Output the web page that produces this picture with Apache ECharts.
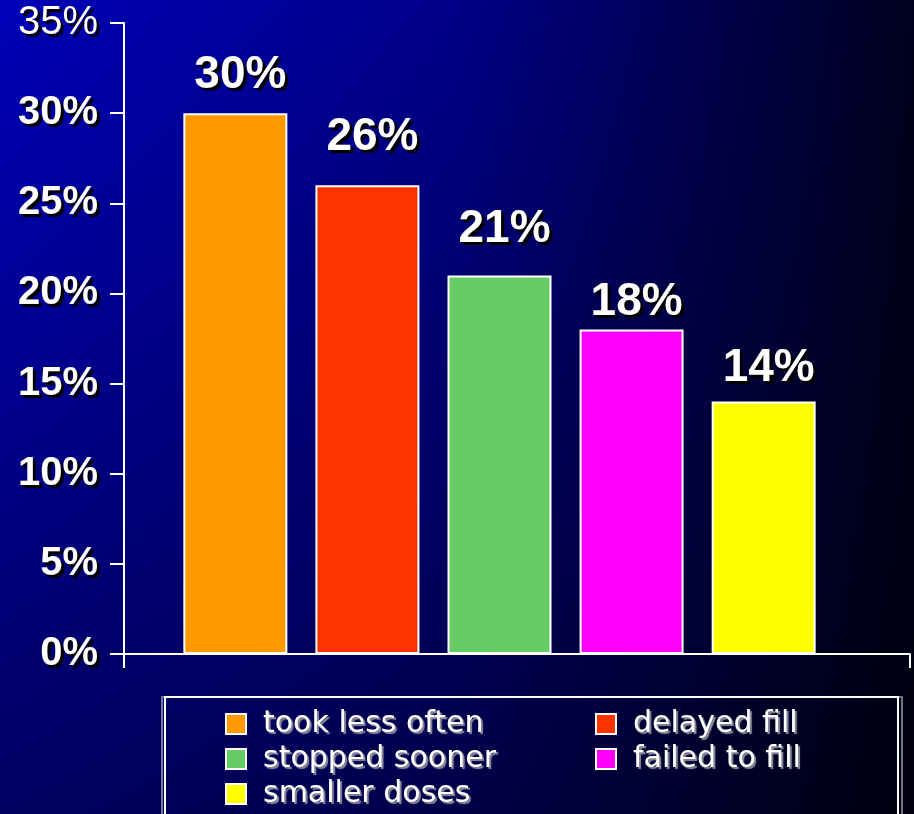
<!DOCTYPE html>
<html>
<head>
<meta charset="utf-8">
<style>
  html, body { margin: 0; padding: 0; background: #000040; }
  #chart { width: 914px; height: 814px; }
</style>
<script src="https://cdn.jsdelivr.net/npm/echarts@6/dist/echarts.min.js"></script>
</head>
<body>
<div id="chart"></div>
<script>
// Reasons patients gave for changing how they took their medication
const seriesNames = ['took less often', 'delayed fill', 'stopped sooner', 'failed to fill', 'smaller doses'];
const seriesValues = [30, 26, 21, 18, 14];
const seriesColors = ['#FF9900', '#FF3300', '#66CC66', '#FF00FF', '#FFFF00'];
const yTicks = [0, 5, 10, 15, 20, 25, 30, 35];
const legendLeft = ['took less often', 'stopped sooner', 'smaller doses'];
const legendRight = ['delayed fill', 'failed to fill'];

// how far each value label sits above its bar
const labelDistance = [15, 25, 23, 4, 10];

const chart = echarts.init(document.getElementById('chart'), null, { renderer: 'canvas' });

const whiteShadow = {
  color: '#ffffff',
  textShadowColor: '#000000',
  textShadowOffsetX: 3,
  textShadowOffsetY: 3,
  textShadowBlur: 1
};

const legendText = {
  color: '#ffffff',
  fontFamily: 'DejaVu Sans',
  fontSize: 30,
  lineHeight: 30,
  padding: [0, 0, 0, 12],
  textShadowColor: '#8c8c9c',
  textShadowOffsetX: 2,
  textShadowOffsetY: 2,
  textShadowBlur: 1
};

const series = seriesNames.map((name, i) => ({
  name: name,
  type: 'bar',
  xAxisIndex: 1,
  yAxisIndex: 1,
  barWidth: 104,
  barGap: '27%',
  data: [seriesValues[i]],
  itemStyle: { color: seriesColors[i], borderColor: '#ffffff', borderWidth: 2 },
  label: {
    show: true,
    position: 'top',
    distance: labelDistance[i],
    offset: [5, 0],
    formatter: '{c}%',
    fontFamily: 'Liberation Sans, Arial, sans-serif',
    fontWeight: 'bold',
    fontSize: 46,
    ...whiteShadow
  }
}));

const option = {
  animation: false,
  backgroundColor: new echarts.graphic.LinearGradient(0, 0, 1, 0, [
    { offset: 0, color: '#0000b8' },
    { offset: 0.5, color: '#000088' },
    { offset: 1, color: '#00001e' }
  ]),
  graphic: [
    {
      type: 'rect', z: -10, silent: true,
      shape: { x: 0, y: 0, width: 914, height: 814 },
      style: {
        fill: new echarts.graphic.LinearGradient(0, 0, 0, 1, [
          { offset: 0, color: 'rgba(0,0,0,0)' },
          { offset: 1, color: 'rgba(0,0,0,0.47)' }
        ])
      }
    },
    {
      type: 'rect', z: 1, silent: true,
      shape: { x: 162, y: 697, width: 740, height: 200 },
      style: { fill: 'none', stroke: '#9a9aae', lineWidth: 1.5 }
    },
    {
      type: 'rect', z: 1, silent: true,
      shape: { x: 165, y: 697, width: 733, height: 200 },
      style: { fill: 'none', stroke: '#ffffff', lineWidth: 2 }
    }
  ],
  legend: [
    {
      data: legendLeft,
      orient: 'vertical',
      left: 225, top: 709,
      padding: 0,
      itemWidth: 20, itemHeight: 20, itemGap: 5,
      icon: 'rect',
      textStyle: legendText
    },
    {
      data: legendRight,
      orient: 'vertical',
      left: 595, top: 709,
      padding: 0,
      itemWidth: 20, itemHeight: 20, itemGap: 5,
      icon: 'rect',
      textStyle: legendText
    }
  ],
  grid: [
    { left: 124, right: 4, top: 23, bottom: 160 },
    { left: 124, right: 39, top: 23, bottom: 160 }
  ],
  xAxis: [
    {
      type: 'category', gridIndex: 0, data: [''],
      axisLine: { lineStyle: { color: '#ffffff', width: 2 } },
      axisTick: { show: true, length: 14, lineStyle: { color: '#ffffff', width: 2 } },
      axisLabel: { show: false }
    },
    {
      type: 'category', gridIndex: 1, data: [''],
      show: false
    }
  ],
  yAxis: [
    {
      type: 'value', gridIndex: 0,
      min: yTicks[0], max: yTicks[yTicks.length - 1], interval: 5,
      splitLine: { show: false },
      axisLine: { show: true, lineStyle: { color: '#ffffff', width: 2 } },
      axisTick: { show: true, length: 14, lineStyle: { color: '#ffffff', width: 2 } },
      axisLabel: {
        margin: 26,
        fontFamily: 'Liberation Sans, Arial, sans-serif',
        fontWeight: 'bold',
        fontSize: 40,
        ...whiteShadow,
        formatter: v => v === 35 ? '{top|' + v + '%}' : v + '%',
        rich: {
          top: {
            fontFamily: 'Liberation Sans, Arial, sans-serif',
            fontWeight: 'normal',
            fontSize: 40,
            ...whiteShadow
          }
        }
      }
    },
    {
      type: 'value', gridIndex: 1,
      min: yTicks[0], max: yTicks[yTicks.length - 1], interval: 5,
      show: false
    }
  ],
  series: series
};

chart.setOption(option);
</script>
</body>
</html>
